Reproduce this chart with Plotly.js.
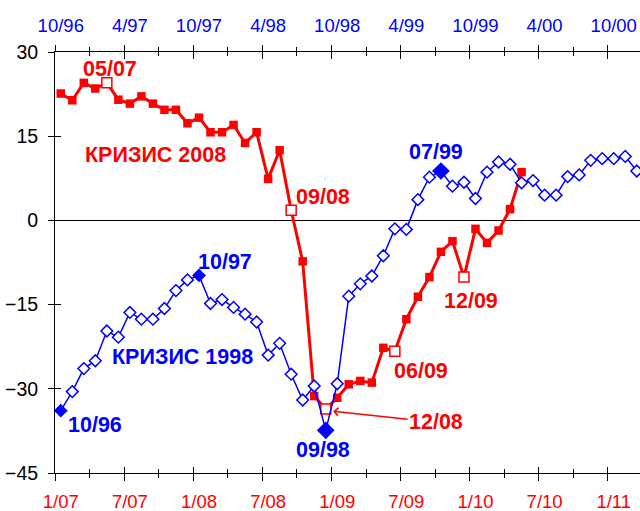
<!DOCTYPE html>
<html>
<head>
<meta charset="utf-8">
<script src="https://cdn.plot.ly/plotly-3.0.1.min.js"></script>
<style>html,body{margin:0;padding:0;background:#fff;}#chart{width:640px;height:511px;}</style>
</head>
<body>
<div id="chart"></div>
<script>
// Crisis 2008 series: monthly, starting 1/07
const redValues = [22.6, 21.4, 24.5, 23.5, 24.5, 21.5, 20.8, 22.1, 20.8, 19.7,
  19.7, 17.3, 18.3, 15.7, 15.7, 17.0, 13.8, 15.7, 7.4, 12.5,
  1.8, -7.3, -31.3, -33.6, -31.6, -29.2, -28.6, -28.9, -22.7, -23.3,
  -17.6, -13.6, -10.1, -5.6, -3.7, -10.1, -1.5, -4.0, -1.8, 2.0,
  8.6];
// Crisis 1998 series: monthly, starting 10/96
const blueValues = [-33.9, -30.5, -26.4, -25.0, -19.7, -20.8, -16.4, -17.6, -17.6, -15.7,
  -12.5, -10.6, -9.8, -14.8, -14.1, -15.5, -16.7, -18.1, -24.0, -21.9,
  -27.4, -32.0, -29.5, -37.4, -29.1, -13.5, -11.3, -9.9, -6.3, -1.5,
  -1.6, 3.7, 7.7, 8.8, 6.1, 6.8, 3.9, 8.6, 10.4, 10.0,
  6.7, 7.1, 4.5, 4.5, 7.8, 8.1, 10.7, 11.0, 11.0, 11.4,
  8.8];
// highlighted months (indices)
const redHollow = [4, 20, 23, 29, 35];          // 05/07, 09/08, 12/08, 06/09, 12/09
const blueFilled = [0, 12, 23, 33];              // 10/96, 10/97, 09/98, 07/99
const blueBig = [23, 33];
// tick labels
const bottomTickLabels = ['1/07','7/07','1/08','7/08','1/09','7/09','1/10','7/10','1/11'];
const topTickLabels = ['10/96','4/97','10/97','4/98','10/98','4/99','10/99','4/00','10/00'];
const yTicks = [-45, -30, -15, 0, 15, 30];

const RED = '#FF0000', BLUE = '#0000FF';
const FONT = 'Liberation Sans, Arial, sans-serif';
const redX = redValues.map((v, i) => i);
const blueX = blueValues.map((v, i) => i);
const labelVals = bottomTickLabels.map((t, i) => i * 6);

const redTrace = {
  x: redX, y: redValues, xaxis: 'x', yaxis: 'y', type: 'scatter', mode: 'lines+markers',
  line: {color: RED, width: 3},
  marker: {symbol: 'square', opacity: 1,
    size: redX.map(i => redHollow.includes(i) ? 10 : 8.5),
    color: redX.map(i => redHollow.includes(i) ? '#FFFFFF' : RED),
    line: {color: RED, width: redX.map(i => redHollow.includes(i) ? 1.5 : 0)}},
  showlegend: false, hoverinfo: 'skip', cliponaxis: true
};
const blueTrace = {
  x: blueX, y: blueValues, xaxis: 'x2', yaxis: 'y', type: 'scatter', mode: 'lines+markers',
  line: {color: BLUE, width: 1.5},
  marker: {symbol: 'diamond', opacity: 1,
    size: blueX.map(i => blueBig.includes(i) ? 12 : 9),
    color: blueX.map(i => blueFilled.includes(i) ? BLUE : '#FFFFFF'),
    line: {color: BLUE, width: 1.5}},
  showlegend: false, hoverinfo: 'skip', cliponaxis: true
};
function dummy(xa, ya) {
  return {x: [null], y: [null], xaxis: xa, yaxis: ya, type: 'scatter', mode: 'markers',
    showlegend: false, hoverinfo: 'skip'};
}

const XR = [-0.5, 50.28];
function tickAxis(side, dir, extra) {
  return Object.assign({
    range: XR, side: side, anchor: 'y', tickmode: 'linear', tick0: -0.5, dtick: 6,
    ticks: dir, ticklen: 6.5, tickwidth: 1, tickcolor: '#000',
    showticklabels: false, showgrid: false, zeroline: false,
    minor: {tick0: -0.5, dtick: 3, ticks: dir, ticklen: 4, tickwidth: 1, tickcolor: '#000', showgrid: false},
    fixedrange: true
  }, extra || {});
}
function labelAxis(side, texts, color) {
  return {
    range: XR, side: side, anchor: 'y', overlaying: 'x', tickmode: 'array',
    tickvals: labelVals, ticktext: texts, ticks: 'outside', ticklen: 12,
    tickcolor: 'rgba(0,0,0,0)', showgrid: false, zeroline: false, showline: false,
    tickfont: {family: FONT, size: 18.5, color: color}, fixedrange: true
  };
}

function lbl(text, x, y, color, extra) {
  return Object.assign({x: x, y: y, xref: 'x', yref: 'y', text: '<b>' + text + '</b>',
    showarrow: false, xanchor: 'center', yanchor: 'middle',
    font: {family: FONT, size: 21.5, color: color}}, extra || {});
}

const layout = {
  width: 640, height: 511,
  margin: {l: 55, r: 0, t: 52, b: 38, pad: 0},
  paper_bgcolor: '#FFFFFF', plot_bgcolor: '#FFFFFF',
  xaxis: tickAxis('bottom', 'outside', {showline: true, linecolor: '#000', linewidth: 1}),
  xaxis2: tickAxis('top', 'outside', {overlaying: 'x', showline: true, linecolor: '#000', linewidth: 1}),
  xaxis3: tickAxis('bottom', 'inside', {overlaying: 'x', showline: false}),
  xaxis4: tickAxis('top', 'inside', {overlaying: 'x', showline: false}),
  xaxis5: labelAxis('bottom', bottomTickLabels, RED),
  xaxis6: labelAxis('top', topTickLabels, BLUE),
  yaxis: {range: [-45, 30], tickmode: 'array', tickvals: yTicks, ticks: 'outside', ticklen: 6,
    tickcolor: '#000', tickwidth: 1, showticklabels: false, showgrid: false,
    showline: true, linecolor: '#000', linewidth: 1,
    zeroline: true, zerolinecolor: '#000', zerolinewidth: 1, fixedrange: true},
  yaxis2: {range: [-45, 30], overlaying: 'y', side: 'left', anchor: 'x', tickmode: 'array', tickvals: yTicks,
    ticks: 'inside', ticklen: 6, tickcolor: '#000', tickwidth: 1, showticklabels: false,
    showgrid: false, showline: false, zeroline: false, fixedrange: true},
  yaxis3: {range: [-45, 30], overlaying: 'y', side: 'left', anchor: 'x', tickmode: 'array', tickvals: yTicks,
    ticks: 'outside', ticklen: 12, tickcolor: 'rgba(0,0,0,0)', showgrid: false, showline: false, zeroline: false,
    tickfont: {family: FONT, size: 19.5, color: '#000'}, fixedrange: true},
  annotations: [
    lbl('05/07', 4.27, 26.9, RED),
    lbl('КРИЗИС 2008', 8.22, 11.74, RED),
    lbl('09/08', 22.77, 4.18, RED),
    lbl('06/09', 31.3, -26.9, RED),
    lbl('12/09', 35.58, -14.36, RED),
    lbl('10/96', 2.97, -36.4, BLUE),
    lbl('10/97', 14.24, -7.47, BLUE),
    lbl('КРИЗИС 1998', 10.56, -24.4, BLUE),
    lbl('09/98', 22.77, -40.9, BLUE),
    lbl('07/99', 32.6, 12.2, BLUE),
    {x: 23.64, y: -34.0, xref: 'x', yref: 'y', text: '<b>12/08</b>', showarrow: true,
      ax: 103, ay: 11, arrowcolor: RED, arrowwidth: 1.5, arrowhead: 4, arrowsize: 1, standoff: 0,
      font: {family: FONT, size: 21.5, color: RED}}
  ]
};

const data = [redTrace, blueTrace,
  dummy('x3', 'y'), dummy('x4', 'y'), dummy('x5', 'y'), dummy('x6', 'y'),
  dummy('x', 'y2'), dummy('x', 'y3')];

Plotly.newPlot('chart', data, layout, {staticPlot: true, displayModeBar: false});
</script>
</body>
</html>
